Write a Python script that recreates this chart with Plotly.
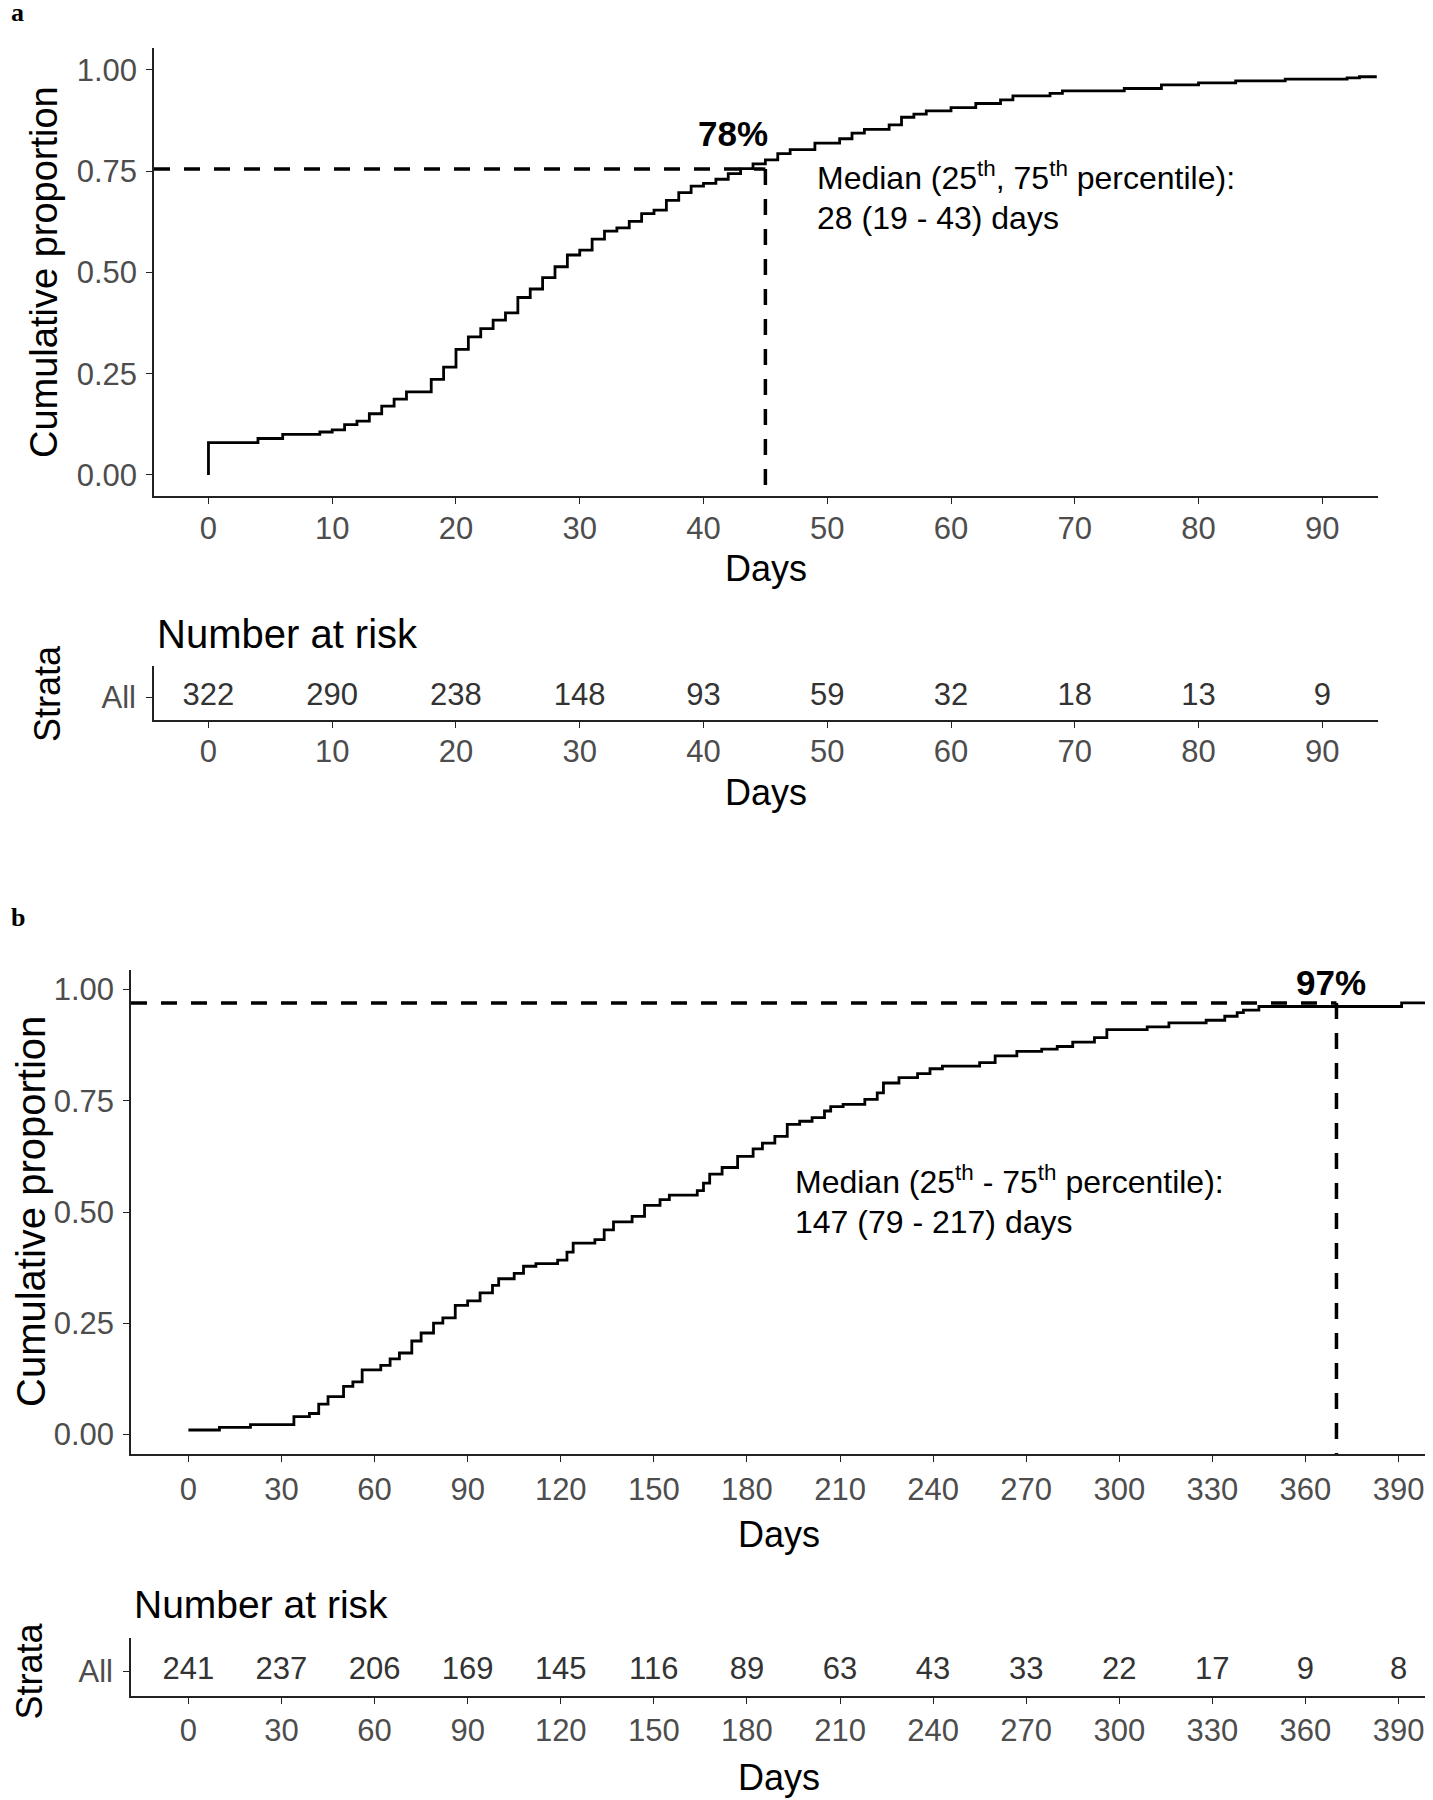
import plotly.graph_objects as go

PAGE_W, PAGE_H = 1433, 1800
OFF = 8  # default body margin of the html page
W, H = PAGE_W - OFF, PAGE_H - OFF

# ---------------- data ----------------
# Panel a: cumulative proportion (step function)
days_a = [0, 0, 4, 6, 9, 10, 11, 12, 13, 14, 15, 16, 18, 19, 20, 21, 22, 23, 24, 25, 26, 27, 28,
          29, 30, 31, 32, 33, 34, 35, 36, 37, 38, 39, 40, 41, 42, 43, 44, 45, 46, 47, 49, 51, 52,
          53, 55, 56, 57, 58, 60, 62, 64, 65, 68, 69, 74, 77, 80, 83, 87, 92, 93, 94.4]
prop_a = [0.0, 0.080, 0.090, 0.100, 0.106, 0.111, 0.124, 0.133, 0.151, 0.170, 0.187, 0.205, 0.236,
          0.266, 0.310, 0.341, 0.361, 0.382, 0.400, 0.438, 0.459, 0.487, 0.514, 0.543, 0.555, 0.582,
          0.602, 0.610, 0.626, 0.645, 0.654, 0.678, 0.697, 0.713, 0.720, 0.730, 0.744, 0.756, 0.768,
          0.778, 0.793, 0.803, 0.819, 0.830, 0.844, 0.853, 0.864, 0.883, 0.891, 0.899, 0.907, 0.917,
          0.926, 0.936, 0.942, 0.948, 0.954, 0.963, 0.968, 0.973, 0.977, 0.980, 0.983, 0.983]

risk_days_a = [0, 10, 20, 30, 40, 50, 60, 70, 80, 90]
risk_n_a = [322, 290, 238, 148, 93, 59, 32, 18, 13, 9]

ref_a_level = 0.755
ref_a_day = 45

# Panel b
days_b = [0, 10, 20, 34, 39, 42, 45, 50, 53, 56, 62, 65, 68, 72, 75, 79, 82, 86, 90, 94, 98, 100,
          105, 108, 112, 119, 122, 124, 131, 134, 137, 143, 147, 152, 155, 164, 166, 168, 172, 177,
          182, 185, 189, 193, 197, 201, 205, 207, 211, 218, 222, 224, 229, 235, 239, 243, 255, 260,
          267, 275, 280, 285, 292, 296, 309, 316, 328, 334, 338, 340, 345, 391, 399]
prop_b = [0.010, 0.016, 0.022, 0.040, 0.047, 0.068, 0.085, 0.108, 0.118, 0.145, 0.155, 0.170, 0.183,
          0.210, 0.228, 0.250, 0.262, 0.290, 0.300, 0.318, 0.335, 0.350, 0.362, 0.378, 0.384, 0.392,
          0.410, 0.430, 0.438, 0.460, 0.478, 0.490, 0.515, 0.528, 0.538, 0.548, 0.565, 0.585, 0.600,
          0.625, 0.642, 0.655, 0.670, 0.697, 0.704, 0.712, 0.727, 0.737, 0.742, 0.753, 0.768, 0.790,
          0.802, 0.811, 0.822, 0.828, 0.836, 0.851, 0.861, 0.866, 0.872, 0.882, 0.892, 0.910, 0.916,
          0.925, 0.931, 0.940, 0.948, 0.954, 0.962, 0.970, 0.970]

risk_days_b = [0, 30, 60, 90, 120, 150, 180, 210, 240, 270, 300, 330, 360, 390]
risk_n_b = [241, 237, 206, 169, 145, 116, 89, 63, 43, 33, 22, 17, 9, 8]

ref_b_level = 0.97
ref_b_day = 370

# ---------------- helpers (page pixel -> paper fraction) ----------------
def xp(px):
    return (px - OFF) / W

def yp(py):
    return 1 - (py - OFF) / H

FONT = "Liberation Sans, Arial, sans-serif"
SERIF = "Liberation Serif, Times New Roman, serif"
TICKC = "#4D4D4D"
AXC = "#222222"
TICKF = 31
ROW_Y = 0.42  # vertical placement of the risk-table row

fig = go.Figure()

xr_a = [-4.4, 94.5]
yr_a = [-0.052, 1.054]
xr_b = [-18.5, 399.5]
yr_b = [-0.044, 1.044]

DASH = "16px,14px"
LW = 2.8
DW = 3.5

# panel a curve + reference lines
fig.add_trace(go.Scatter(x=days_a, y=prop_a, mode="lines", line=dict(color="black", width=LW, shape="hv"),
                         xaxis="x", yaxis="y", hoverinfo="skip"))
fig.add_trace(go.Scatter(x=[xr_a[0], ref_a_day], y=[ref_a_level, ref_a_level], mode="lines",
                         line=dict(color="black", width=DW, dash=DASH), xaxis="x", yaxis="y"))
fig.add_trace(go.Scatter(x=[ref_a_day, ref_a_day], y=[ref_a_level, yr_a[0]], mode="lines",
                         line=dict(color="black", width=DW, dash=DASH), xaxis="x", yaxis="y"))
# risk table a
fig.add_trace(go.Scatter(x=risk_days_a, y=[ROW_Y] * len(risk_days_a), mode="text",
                         text=[str(v) for v in risk_n_a],
                         textfont=dict(size=31, color="#333333", family=FONT),
                         xaxis="x2", yaxis="y2", hoverinfo="skip"))

# panel b
fig.add_trace(go.Scatter(x=days_b, y=prop_b, mode="lines", line=dict(color="black", width=LW, shape="hv"),
                         xaxis="x3", yaxis="y3", hoverinfo="skip"))
fig.add_trace(go.Scatter(x=[xr_b[0], ref_b_day], y=[ref_b_level, ref_b_level], mode="lines",
                         line=dict(color="black", width=DW, dash=DASH), xaxis="x3", yaxis="y3"))
fig.add_trace(go.Scatter(x=[ref_b_day, ref_b_day], y=[ref_b_level, yr_b[0]], mode="lines",
                         line=dict(color="black", width=DW, dash=DASH), xaxis="x3", yaxis="y3"))
fig.add_trace(go.Scatter(x=risk_days_b, y=[ROW_Y] * len(risk_days_b), mode="text",
                         text=[str(v) for v in risk_n_b],
                         textfont=dict(size=31, color="#333333", family=FONT),
                         xaxis="x4", yaxis="y4", hoverinfo="skip"))

common = dict(showline=True, linecolor=AXC, linewidth=1.6, ticks="outside", ticklen=6, tickwidth=1.4,
              tickcolor=AXC, showgrid=False, zeroline=False,
              tickfont=dict(size=TICKF, color=TICKC, family=FONT), fixedrange=True)

fig.update_layout(
    width=W, height=H, margin=dict(l=0, r=0, t=0, b=0),
    paper_bgcolor="white", plot_bgcolor="white", showlegend=False,
    font=dict(family=FONT),
    xaxis=dict(domain=[xp(154), xp(1378)], range=xr_a, anchor="y", tickvals=risk_days_a,
               ticklabelstandoff=-2, **common),
    yaxis=dict(domain=[yp(496), yp(48)], range=yr_a, anchor="x", tickvals=[0, 0.25, 0.5, 0.75, 1],
               tickformat=".2f", ticklabelstandoff=3, **common),
    xaxis2=dict(domain=[xp(154), xp(1378)], range=xr_a, anchor="y2", tickvals=risk_days_a,
                ticklabelstandoff=-3, **common),
    yaxis2=dict(domain=[yp(720), yp(666)], range=[0, 1], anchor="x2", tickvals=[ROW_Y], ticktext=["All"],
                ticklabelstandoff=4, **common),
    xaxis3=dict(domain=[xp(131), xp(1428)], range=xr_b, anchor="y3", tickvals=risk_days_b,
                ticklabelstandoff=1, **common),
    yaxis3=dict(domain=[yp(1454), yp(970)], range=yr_b, anchor="x3", tickvals=[0, 0.25, 0.5, 0.75, 1],
                tickformat=".2f", ticklabelstandoff=3, **common),
    xaxis4=dict(domain=[xp(131), xp(1428)], range=xr_b, anchor="y4", tickvals=risk_days_b,
                ticklabelstandoff=0, **common),
    yaxis4=dict(domain=[yp(1696), yp(1638)], range=[0, 1], anchor="x4", tickvals=[ROW_Y], ticktext=["All"],
                ticklabelstandoff=4, **common),
)

ann = []
def pa(text, x, y, size, color="black", xanchor="center", yanchor="middle", angle=0, family=FONT):
    ann.append(dict(text=text, x=xp(x), y=yp(y), xref="paper", yref="paper", showarrow=False,
                    xanchor=xanchor, yanchor=yanchor, textangle=angle,
                    font=dict(size=size, color=color, family=family)))

pa("<b>a</b>", 9, 12, 26, xanchor="left", family=SERIF)
pa("<b>b</b>", 9, 917, 26, xanchor="left", family=SERIF)

# axis titles
pa("Cumulative proportion", 44, 272, 38, angle=-90)
pa("Days", 766, 568, 36)
pa("Number at risk", 155, 634, 40, xanchor="left")
pa("Strata", 47, 694, 36, angle=-90)
pa("Days", 766, 792, 36)

pa("Cumulative proportion", 31, 1212, 40, angle=-90)
pa("Days", 779, 1534, 36)
pa("Number at risk", 132, 1604, 39, xanchor="left")
pa("Strata", 28.5, 1671, 36, angle=-90)
pa("Days", 779, 1777, 36)

# data-anchored annotations
def da(text, x, y, size, xr, yr, xanchor="left"):
    ann.append(dict(text=text, x=x, y=y, xref=xr, yref=yr, showarrow=False, xanchor=xanchor,
                    yanchor="middle", font=dict(size=size, color="black", family=FONT)))

da("<b>78%</b>", 42.4, 0.842, 35, "x", "y", xanchor="center")
da("Median (25<sup>th</sup>, 75<sup>th</sup> percentile):", 49.0, 0.738, 32, "x", "y")
da("28 (19 - 43) days", 49.0, 0.635, 32, "x", "y")

da("<b>97%</b>", 368.3, 1.017, 35, "x3", "y3", xanchor="center")
da("Median (25<sup>th</sup> - 75<sup>th</sup> percentile):", 195.0, 0.572, 32, "x3", "y3")
da("147 (79 - 217) days", 195.0, 0.477, 32, "x3", "y3")

fig.update_layout(annotations=ann)

fig.write_html("out.html")
